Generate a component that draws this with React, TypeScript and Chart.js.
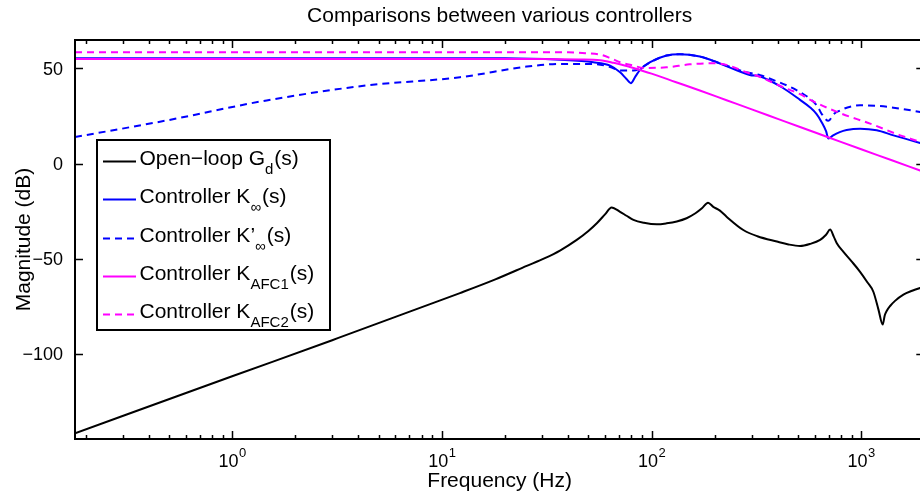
import React, { useEffect, useRef } from 'react';
import { Chart, registerables } from 'chart.js';

Chart.register(...registerables);

const FONT = '"Liberation Sans", Arial, Helvetica, sans-serif';

// ---- text ----
const titleText = 'Comparisons between various controllers';
const xLabelText = 'Frequency (Hz)';
const yLabelText = 'Magnitude (dB)';
const xMajorTicks = [1, 10, 100, 1000];
const xTickExponents = ['0', '1', '2', '3'];
const yTicks = [-100, -50, 0, 50];
const yTickLabels = ['\u2212100', '\u221250', '0', '50'];

// legend labels: [main, subscript, tail]
const legendLabels: string[][] = [
  ['Open\u2212loop G', 'd', '(s)'],
  ['Controller K', '\u221E', '(s)'],
  ['Controller K\u2019', '\u221E', '(s)'],
  ['Controller K', 'AFC1', '(s)'],
  ['Controller K', 'AFC2', '(s)'],
];

// ---- data (Hz, dB) ----
const gdFreq = [0.178, 1, 3, 12.2, 18, 25.4, 31, 36.6, 44, 50, 55, 60, 64.5, 70.8, 76, 82, 92, 106, 118, 132, 147, 162, 174, 186, 197, 212, 228, 274, 320, 396, 450, 511, 571, 637, 680, 711, 740, 765, 823, 900, 988, 1070, 1143, 1209, 1267, 1295, 1325, 1374, 1450, 1590, 1750, 1910, 2000];
const gdMag = [-142, -112, -93, -68.2, -61, -53.9, -49.8, -45.8, -40.2, -35.5, -31.3, -26.8, -23.1, -25.4, -27.5, -29.7, -31.2, -32, -31.5, -30.5, -28.8, -26.2, -23.6, -20.7, -22.8, -24.8, -28, -35, -38.3, -41.1, -42.6, -43.4, -42.3, -40.2, -37.5, -34.8, -38.5, -42, -46.5, -51.5, -57, -62.5, -67.5, -76.9, -84.8, -80, -77.5, -75, -72.3, -69, -67, -65.5, -64.8];

const kInfFreq = [0.178, 20, 36.6, 52.8, 63.5, 70.8, 76, 79.7, 84, 88.2, 98.5, 118, 136, 170, 205, 245, 294, 330, 420, 511, 571, 613, 650, 680, 698, 735, 790, 852, 988, 1186, 1425, 1910, 2000];
const kInfMag = [55.4, 55.4, 54.6, 53.3, 51.5, 48, 44.5, 42.3, 46, 49.3, 53.3, 56.8, 57.5, 56.3, 53.3, 49.8, 46.6, 45.8, 40, 33.5, 29.5, 26, 21.5, 17, 13.1, 14.8, 16.5, 17.6, 18.3, 17.5, 14.8, 10.8, 10.2];

const kPrimeFreq = [0.178, 0.489, 1.46, 4.39, 12.2, 25.4, 36.6, 52.8, 63.5, 70.8, 82, 88.2, 98.5, 118, 136, 170, 205, 245, 283, 330, 380, 475, 571, 620, 647, 698, 740, 793, 860, 988, 1200, 1425, 1910, 2000];
const kPrimeMag = [13.9, 22.7, 33.2, 41.1, 45.4, 51, 52.4, 52.4, 50.8, 48.9, 48.9, 50, 53.3, 56.8, 57.5, 56.3, 53.3, 50.3, 48, 46.5, 44, 39.5, 34, 30, 26.2, 22.5, 26, 27.9, 29.5, 30.6, 30.3, 29.4, 27.1, 26.6];

const kAfc1Freq = [0.178, 30, 45, 57, 66, 76, 88, 100, 130, 170, 228, 294, 400, 511, 685, 1000, 1400, 1910, 2000];
const kAfc1Mag = [55, 55, 54.8, 54.4, 53, 51.3, 49.2, 47.3, 42.9, 38.4, 33.3, 28.9, 23.5, 19.2, 14.1, 7.5, 1.7, -3.7, -4.5];

const kAfc2Freq = [0.178, 40, 49, 56.9, 63.5, 70.8, 82, 91.6, 118, 152, 197, 228, 283, 330, 380, 438, 511, 571, 793, 1103, 1535, 1910, 2000];
const kAfc2Mag = [58.5, 58.5, 58, 57.3, 55.5, 53.3, 51.5, 50.3, 50.6, 52.2, 52.8, 51.9, 48, 45.5, 42.5, 39.5, 36.5, 33.5, 26.5, 21, 14.8, 11.4, 10.6];

const seriesColors = ['#000000', '#0000ff', '#0000ff', '#ff00ff', '#ff00ff'];
const seriesDashed = [false, false, true, false, true];

const X_MIN = 0.178;
const X_MAX = 2000;
const Y_MIN = -145;
const Y_MAX = 65;

const CANVAS_W = 940;
const CANVAS_H = 502;

const matlabPlugin = {
  id: 'matlabAxes',
  afterDraw(chart: any) {
    const { ctx, chartArea: a, scales } = chart;
    const xs = scales.x;
    const ys = scales.y;
    ctx.save();

    // axes box
    ctx.strokeStyle = '#000';
    ctx.lineWidth = 2;
    ctx.strokeRect(a.left, a.top, a.right - a.left, a.bottom - a.top);

    // ticks
    ctx.lineWidth = 1.5;
    ctx.beginPath();
    const minor: number[] = [];
    for (const d of [0.1, 1, 10, 100, 1000]) for (let k = 2; k <= 9; k++) minor.push(k * d);
    for (const v of minor) {
      if (v <= X_MIN || v >= X_MAX) continue;
      const px = Math.round(xs.getPixelForValue(v)) + 0.5;
      ctx.moveTo(px, a.bottom);
      ctx.lineTo(px, a.bottom - 4);
      ctx.moveTo(px, a.top);
      ctx.lineTo(px, a.top + 4);
    }
    for (const v of xMajorTicks) {
      const px = Math.round(xs.getPixelForValue(v)) + 0.5;
      ctx.moveTo(px, a.bottom);
      ctx.lineTo(px, a.bottom - 8);
      ctx.moveTo(px, a.top);
      ctx.lineTo(px, a.top + 8);
    }
    for (const v of yTicks) {
      const py = Math.round(ys.getPixelForValue(v)) + 0.5;
      ctx.moveTo(a.left, py);
      ctx.lineTo(a.left + 8, py);
      ctx.moveTo(a.right, py);
      ctx.lineTo(a.right - 8, py);
    }
    ctx.stroke();

    ctx.fillStyle = '#000';
    ctx.textBaseline = 'alphabetic';

    // x tick labels 10^n
    xMajorTicks.forEach((v, i) => {
      const px = xs.getPixelForValue(v);
      ctx.font = `18px ${FONT}`;
      const w1 = ctx.measureText('10').width;
      ctx.font = `13px ${FONT}`;
      const w2 = ctx.measureText(xTickExponents[i]).width;
      const start = px - (w1 + w2) / 2;
      ctx.textAlign = 'left';
      ctx.font = `18px ${FONT}`;
      ctx.fillText('10', start, 467);
      ctx.font = `13px ${FONT}`;
      ctx.fillText(xTickExponents[i], start + w1 + 0.5, 457);
    });

    // y tick labels
    ctx.font = `18px ${FONT}`;
    ctx.textAlign = 'right';
    yTicks.forEach((v, i) => {
      const py = ys.getPixelForValue(v);
      ctx.fillText(yTickLabels[i], a.left - 12, py + 6.5);
    });

    // title and axis labels
    const cx = (a.left + a.right) / 2;
    ctx.font = `21px ${FONT}`;
    ctx.textAlign = 'center';
    ctx.fillText(titleText, cx, 22);
    ctx.fillText(xLabelText, cx, 487);
    ctx.save();
    ctx.translate(30, (a.top + a.bottom) / 2);
    ctx.rotate(-Math.PI / 2);
    ctx.fillText(yLabelText, 0, 0);
    ctx.restore();

    // legend
    const lx = 97, ly = 140, lw = 233, lh = 190;
    ctx.fillStyle = '#fff';
    ctx.fillRect(lx, ly, lw, lh);
    ctx.strokeStyle = '#000';
    ctx.lineWidth = 2;
    ctx.strokeRect(lx, ly, lw, lh);
    legendLabels.forEach((parts, i) => {
      const base = 165 + 38.3 * i;
      const lineY = Math.round(base - 4) + 0.5;
      ctx.strokeStyle = seriesColors[i];
      ctx.lineWidth = 2;
      ctx.setLineDash(seriesDashed[i] ? [7, 5] : []);
      ctx.beginPath();
      ctx.moveTo(103, lineY);
      ctx.lineTo(136, lineY);
      ctx.stroke();
      ctx.setLineDash([]);
      ctx.fillStyle = '#000';
      ctx.textAlign = 'left';
      let x = 139.5;
      ctx.font = `21px ${FONT}`;
      ctx.fillText(parts[0], x, base);
      x += ctx.measureText(parts[0]).width;
      ctx.font = `15px ${FONT}`;
      ctx.fillText(parts[1], x, base + 9);
      x += ctx.measureText(parts[1]).width + 1;
      ctx.font = `21px ${FONT}`;
      ctx.fillText(parts[2], x, base);
    });

    ctx.restore();
  },
};

export default function App() {
  const ref = useRef<HTMLCanvasElement>(null);
  useEffect(() => {
    const canvas = ref.current;
    if (!canvas) return;
    const mk = (f: number[], m: number[]) => f.map((x, i) => ({ x, y: m[i] }));
    const ds = (data: any, i: number, order: number) => ({
      data,
      borderColor: seriesColors[i],
      backgroundColor: seriesColors[i],
      borderWidth: 2,
      borderDash: seriesDashed[i] ? [7, 5] : [],
      pointRadius: 0,
      fill: false,
      cubicInterpolationMode: 'monotone',
      order,
    });
    const chart = new Chart(canvas, {
      type: 'line',
      data: {
        datasets: [
          ds(mk(gdFreq, gdMag), 0, 5),
          ds(mk(kInfFreq, kInfMag), 1, 4),
          ds(mk(kPrimeFreq, kPrimeMag), 2, 3),
          ds(mk(kAfc1Freq, kAfc1Mag), 3, 2),
          ds(mk(kAfc2Freq, kAfc2Mag), 4, 1),
        ],
      },
      options: {
        animation: false,
        responsive: false,
        devicePixelRatio: 1,
        layout: { padding: { left: 75, top: 40, right: CANVAS_W - 924.3, bottom: CANVAS_H - 439 } },
        plugins: { legend: { display: false }, title: { display: false }, tooltip: { enabled: false } },
        scales: {
          x: { type: 'logarithmic', min: X_MIN, max: X_MAX, display: false },
          y: { type: 'linear', min: Y_MIN, max: Y_MAX, display: false },
        },
      },
      plugins: [matlabPlugin],
    } as any);
    return () => chart.destroy();
  }, []);
  return (
    <div style={{ position: 'fixed', left: 0, top: 0, width: 920, height: 502, overflow: 'hidden', background: '#fff' }}>
      <canvas ref={ref} width={CANVAS_W} height={CANVAS_H} style={{ display: 'block' }} />
    </div>
  );
}
